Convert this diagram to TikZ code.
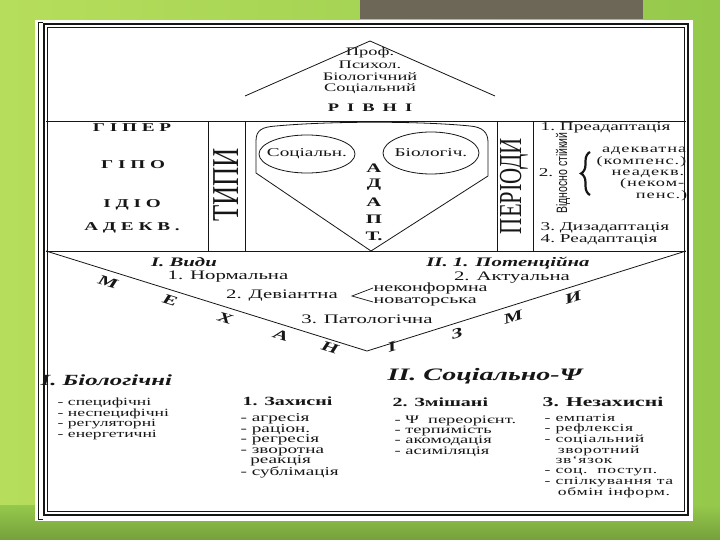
\documentclass[tikz,border=0pt]{standalone}
\usepackage{fontspec}
\setmainfont[FakeStretch=1.6]{Liberation Serif}
\newfontfamily\tallfont[FakeStretch=0.7]{Liberation Serif}
\newfontfamily\narrowfont[FakeStretch=0.7]{Liberation Sans}
\usetikzlibrary{decorations.pathreplacing}
\definecolor{bgleft}{HTML}{B6DE5C}
\definecolor{bgright}{HTML}{95C94B}
\definecolor{bgdark}{HTML}{76A03C}
\definecolor{tabgray}{HTML}{6C6757}
\definecolor{scanink}{HTML}{161616}
\newcommand\fsz[2]{\fontsize{#1}{#2}\selectfont}

\begin{document}
\begin{tikzpicture}[
  x=1pt,
  y=-1pt,
  every node/.style={inner sep=0.5pt, text=scanink},
  ruling/.style={scanink, line width=0.8pt},
  body/.style={font=\fsz{13}{14}},
  small/.style={font=\fsz{12}{12}},
  widecol/.style={font=\fsz{11.5}{11}\addfontfeature{LetterSpace=8}},
  caps/.style={font=\fsz{12}{13}\bfseries\addfontfeature{LetterSpace=40}},
  head/.style={font=\fsz{13}{13}\bfseries\itshape},
  vletter/.style={font=\fsz{14}{14}\bfseries\itshape},
  listtext/.style={anchor=north west, align=left, font=\fsz{11.5}{10.5}}
]
  \useasboundingbox (0,0) rectangle (720,540);
  % slide
  \shade[left color=bgleft, right color=bgright] (0,0) rectangle (720,540);
  \shade[top color=bgright, bottom color=bgdark] (0,505) rectangle (720,540);
  \fill[tabgray] (360,0) rectangle (643,19);
  \fill[white] (35,20) rectangle (693,521);
  \draw[scanink, line width=2.4pt] (44,24) rectangle (688,515);
  \draw[scanink, line width=0.6pt] (47.5,27.5) rectangle (684.5,511.5);
  \draw[scanink, line width=0.6pt] (43,22) -- (38,22) -- (38,519) -- (43,519);

  % rules of the table
  \draw[ruling] (46,121) -- (686,121);
  \draw[ruling] (46,251) -- (686,251);
  \foreach \xv in {208,245,497,533}
    \draw[ruling] (\xv,121) -- (\xv,251);

  % levels
  \draw[ruling] (245,96) -- (370,41) -- (495,96);
  \node[font=\fsz{11.5}{12}] (prof) at (370,53) {Проф.};
  \node[font=\fsz{11.5}{12}] (psych) at (370,64.5) {Психол.};
  \node[font=\fsz{11.5}{12}] (biol) at (370,76.5) {Біологічний};
  \node[font=\fsz{11.5}{12}] (soc) at (370,88.5) {Соціальний};
  \node[font=\fsz{11.5}{12}\bfseries\addfontfeature{LetterSpace=70}] (rivni) at (370,108) {РІВНІ};

  % types
  \node[caps] (hyper) at (132,128) {ГІПЕР};
  \node[caps] (hypo) at (133,165) {ГІПО};
  \node[caps] (idio) at (132,205) {ІДІО};
  \node[caps] (adekv) at (132,228) {АДЕКВ.};
  \node[rotate=90, font=\tallfont\fsz{38}{38}] (typy) at (226,185) {ТИПИ};

  % adaptation
  \draw[ruling] (371,251) -- (256,173) -- (256,141)
    .. controls (256,130) and (262,127) .. (276,126)
    .. controls (330,121) and (420,121) .. (470,126)
    .. controls (482,127) and (488,132) .. (488,142) -- (488,176) -- cycle;
  \draw[ruling] (307,154) ellipse (48 and 19);
  \draw[ruling] (431,153) ellipse (48 and 21);
  \node[font=\fsz{12}{12}] (socoval) at (307,154) {Соціальн.};
  \node[font=\fsz{12}{12}] (biooval) at (431,153) {Біологіч.};
  \foreach \ch [count=\i] in {А,Д,А,П,Т.}
    \node[font=\fsz{13}{13}\bfseries] (adapt\i) at (374,151+17*\i) {\ch};

  % periods
  \node[rotate=90, font=\tallfont\fsz{32}{32}] (periody) at (514,186) {ПЕРІОДИ};
  \node[small, anchor=west] (pre) at (540,128) {1.\ Преадаптація};
  \node[rotate=90, font=\narrowfont\fsz{15}{15}] (vidn) at (563,173) {Відносно стійкий};
  \node[small] (two) at (546,173) {2.};
  \draw[decorate, decoration={brace, amplitude=9pt}, scanink, line width=2.2pt] (590,195) -- (590,152);
  \node[widecol, anchor=east] (adek) at (687,150.5) {адекватна};
  \node[widecol, anchor=east] (komp) at (687,161.5) {(компенс.)};
  \node[widecol, anchor=east] (neadek) at (685,173.5) {неадекв.};
  \node[widecol, anchor=east] (nekomp) at (685,184) {(неком-};
  \node[widecol, anchor=east] (pens) at (688,195.5) {пенс.)};
  \node[small, anchor=west] (dyz) at (540,227.5) {3.\ Дизадаптація};
  \node[small, anchor=west] (read) at (540,239.5) {4.\ Реадаптація};

  % mechanisms
  \coordinate (vleft) at (46,251);
  \coordinate (vtip) at (367,351);
  \coordinate (vright) at (686,251);
  \draw[ruling] (vleft) -- (vtip) -- (vright);
  \foreach \ch/\xx/\yy [count=\i] in {М/108/282, Е/170/300, Х/225/318, А/281/335, Н/330/348}
    \node[vletter, rotate=-17] (mech\i) at (\xx,\yy) {\ch};
  \foreach \ch/\xx/\yy [count=\i] in {І/392/347, З/457/333, М/513/317, И/573/298}
    \node[vletter, rotate=17] (izm\i) at (\xx,\yy) {\ch};

  \node[head] (vydy) at (184,262) {І. Види};
  \node[body] (norm) at (228,277) {1. Нормальна};
  \node[body] (dev) at (282,296) {2. Девіантна};
  \node[body, font=\fsz{12.5}{13}, anchor=west] (nekonf) at (373,288) {неконформна};
  \node[body, font=\fsz{12.5}{13}, anchor=west] (novat) at (373,302) {новаторська};
  \coordinate (brk) at (352,296);
  \draw[scanink, line width=0.7pt] (nekonf.west) -- (brk) -- (novat.west);
  \node[body] (pato) at (367,319) {3. Патологічна};
  \node[head] (poten) at (508,263) {ІІ. 1. Потенційна};
  \node[body] (aktual) at (512,278) {2. Актуальна};

  % kinds of mechanisms
  \node[anchor=west, font=\fsz{15.5}{16}\bfseries\itshape] (biokind) at (40,380) {І. Біологічні};
  \node[listtext, font=\fsz{11}{9}] (biolist) at (57,397) {- специфічні\\- неспецифічні\\- регуляторні\\- енергетичні};
  \node[anchor=west, font=\fsz{12.5}{13}\bfseries] (zakh) at (242,401) {1. Захисні};
  \node[listtext, font=\fsz{12}{10.5}] (zakhlist) at (240,413) {- агресія\\- раціон.\\- регресія\\- зворотна\\\hspace*{0.8em}реакція\\- сублімація};
  \node[anchor=west, font=\fsz{17.5}{18}\bfseries\itshape] (sockind) at (387,376) {ІІ. Соціально-Ψ};
  \node[anchor=west, font=\fsz{12.5}{13}\bfseries] (zmish) at (392,402) {2. Змішані};
  \node[listtext, font=\fsz{11.5}{10.3}] (zmishlist) at (394,415) {- Ψ\ \ переорієнт.\\- терпимість\\- акомодація\\- асиміляція};
  \node[anchor=west, font=\fsz{13.5}{14}\bfseries] (nezakh) at (542,402) {3. Незахисні};
  \begin{scope}
    \clip (0,0) rectangle (686,540);
    \node[listtext, font=\fsz{11}{9.6}\addfontfeature{LetterSpace=5}] (nezakhlist) at (544,414) {- емпатія\\- рефлексія\\- соціальний\\\hspace*{1.2em}зворотний\\\hspace*{1em}зв`язок\\- соц.\ \ поступ.\\- спілкування та\\\hspace*{1.2em}обмін інформ.};
  \end{scope}
\end{tikzpicture}
\end{document}
